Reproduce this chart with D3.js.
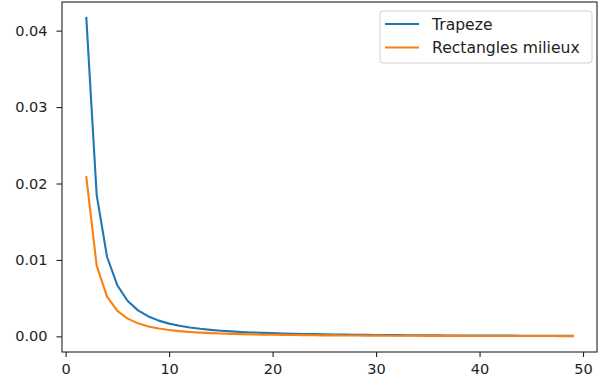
<!DOCTYPE html>
<html>
<head>
<meta charset="utf-8">
<script src="https://cdn.jsdelivr.net/npm/d3@7"></script>
<style>
  body { margin: 0; background: #fff; }
  svg { display: block; font-family: "DejaVu Sans", sans-serif; }
</style>
</head>
<body>
<div id="chart"></div>
<script>
// ---- data ----
const nValues = [2, 3, 4, 5, 6, 7, 8, 9, 10, 11, 12, 13, 14, 15, 16, 17, 18, 19, 20, 21, 22, 23, 24, 25,
  26, 27, 28, 29, 30, 31, 32, 33, 34, 35, 36, 37, 38, 39, 40, 41, 42, 43, 44, 45, 46, 47, 48, 49];

const trapeze = [0.041667, 0.018519, 0.010417, 0.006667, 0.004630, 0.003401, 0.002604, 0.002058,
  0.001667, 0.001377, 0.001157, 0.000986, 0.000850, 0.000741, 0.000651, 0.000577, 0.000514, 0.000462,
  0.000417, 0.000378, 0.000344, 0.000315, 0.000289, 0.000267, 0.000247, 0.000229, 0.000213, 0.000198,
  0.000185, 0.000173, 0.000163, 0.000153, 0.000144, 0.000136, 0.000129, 0.000122, 0.000115, 0.000110,
  0.000104, 0.000099, 0.000094, 0.000090, 0.000086, 0.000082, 0.000079, 0.000075, 0.000072, 0.000069];

const rectMilieux = [0.020833, 0.009259, 0.005208, 0.003333, 0.002315, 0.001701, 0.001302, 0.001029,
  0.000833, 0.000689, 0.000579, 0.000493, 0.000425, 0.000370, 0.000326, 0.000288, 0.000257, 0.000231,
  0.000208, 0.000189, 0.000172, 0.000158, 0.000145, 0.000133, 0.000123, 0.000114, 0.000106, 0.000099,
  0.000093, 0.000087, 0.000081, 0.000077, 0.000072, 0.000068, 0.000064, 0.000061, 0.000058, 0.000055,
  0.000052, 0.000050, 0.000047, 0.000045, 0.000043, 0.000041, 0.000039, 0.000038, 0.000036, 0.000035];

const seriesNames = ["Trapeze", "Rectangles milieux"];
const seriesColors = ["#1f77b4", "#ff7f0e"];
const xTicks = [0, 10, 20, 30, 40, 50];
const yTicks = [0, 0.01, 0.02, 0.03, 0.04];

// ---- layout ----
const width = 606;
const height = 389;
const plot = { left: 62, right: 597, top: 2, bottom: 352 };

const svg = d3.select("#chart")
  .append("svg")
  .attr("width", width)
  .attr("height", height);

// matplotlib-like 5% margins
const xExt = d3.extent(nValues);
const xPad = (xExt[1] - xExt[0]) * 0.05;
const yMax = d3.max(trapeze.concat(rectMilieux));
const yMin = d3.min(trapeze.concat(rectMilieux));
const yPad = (yMax - yMin) * 0.05;

const x = d3.scaleLinear()
  .domain([xExt[0] - xPad, xExt[1] + xPad])
  .range([plot.left, plot.right]);

const y = d3.scaleLinear()
  .domain([yMin - yPad, yMax + yPad])
  .range([plot.bottom, plot.top]);

// ---- lines ----
const line = d3.line()
  .x(d => x(d[0]))
  .y(d => y(d[1]));

[trapeze, rectMilieux].forEach((vals, i) => {
  svg.append("path")
    .datum(nValues.map((n, j) => [n, vals[j]]))
    .attr("fill", "none")
    .attr("stroke", seriesColors[i])
    .attr("stroke-width", 2.1)
    .attr("stroke-linejoin", "round")
    .attr("stroke-linecap", "square")
    .attr("d", line);
});

// ---- axes ----
const xAxis = svg.append("g")
  .attr("transform", `translate(0,${plot.bottom})`)
  .call(d3.axisBottom(x).tickValues(xTicks).tickFormat(d3.format("d")).tickSize(5).tickPadding(6.5));

const yAxis = svg.append("g")
  .attr("transform", `translate(${plot.left},0)`)
  .call(d3.axisLeft(y).tickValues(yTicks).tickFormat(d3.format(".2f")).tickSize(5.5).tickPadding(9));

[xAxis, yAxis].forEach(g => {
  g.select(".domain").remove();
  g.selectAll("line").attr("stroke", "#222").attr("stroke-width", 1.1);
  g.selectAll("text")
    .attr("fill", "#222")
    .style("font-size", "14.5px")
    .style("font-family", "DejaVu Sans, sans-serif");
});

// frame
svg.append("rect")
  .attr("x", plot.left)
  .attr("y", plot.top)
  .attr("width", plot.right - plot.left)
  .attr("height", plot.bottom - plot.top)
  .attr("fill", "none")
  .attr("stroke", "#222")
  .attr("stroke-width", 1.1);

// ---- legend ----
const legend = svg.append("g");

legend.append("rect")
  .attr("x", 380)
  .attr("y", 11)
  .attr("width", 212)
  .attr("height", 52)
  .attr("rx", 3)
  .attr("fill", "#fff")
  .attr("fill-opacity", 0.8)
  .attr("stroke", "#d0d0d0")
  .attr("stroke-width", 1);

seriesNames.forEach((name, i) => {
  const ly = 24 + i * 23.5;
  legend.append("line")
    .attr("x1", 385)
    .attr("x2", 419)
    .attr("y1", ly)
    .attr("y2", ly)
    .attr("stroke", seriesColors[i])
    .attr("stroke-width", 2.1);
  legend.append("text")
    .attr("x", 432)
    .attr("y", ly)
    .attr("dy", "0.36em")
    .attr("fill", "#222")
    .style("font-size", "15.6px")
    .text(name);
});
</script>
</body>
</html>
